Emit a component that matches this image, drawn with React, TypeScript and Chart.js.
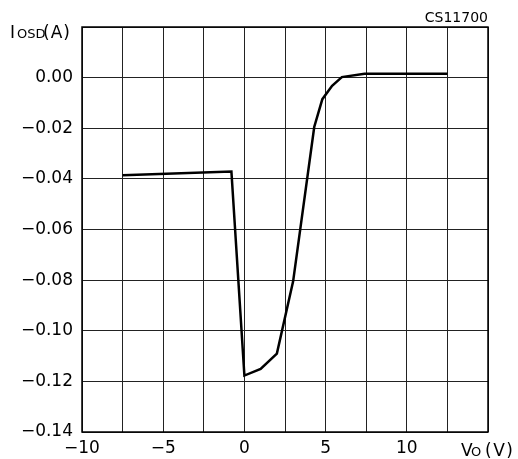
import React, { useEffect, useRef } from "react";
import { Chart, registerables } from "chart.js";

Chart.register(...registerables);

const voltage: number[] = [-7.5, -0.8, 0, 1, 2, 3, 4.3, 4.8, 5.4, 6, 7.4, 12.5];
const current: number[] = [-0.0386, -0.0371, -0.1177, -0.1151, -0.109, -0.0805, -0.0195, -0.0085, -0.0032, 0.0002, 0.0015, 0.0015];

const xMin = -10;
const xMax = 15;
const xStep = 2.5;
const yMin = -0.14;
const yMax = 0.02;
const yStep = 0.02;

const FONT = "DejaVu Sans";

const labelsPlugin = {
  id: "customLabels",
  beforeDatasetsDraw(chart: any) {
    const { ctx, chartArea } = chart;
    ctx.save();
    ctx.strokeStyle = "#000";
    ctx.lineWidth = 1.5;
    ctx.strokeRect(chartArea.left, chartArea.top, chartArea.right - chartArea.left, chartArea.bottom - chartArea.top);
    ctx.restore();
  },
  afterDraw(chart: any) {
    const { ctx } = chart;
    ctx.save();
    ctx.fillStyle = "#000";
    ctx.textBaseline = "alphabetic";
    ctx.textAlign = "left";
    // y-axis title
    ctx.font = `17px "${FONT}"`;
    ctx.fillText("I", 10, 38);
    ctx.font = `13px "${FONT}"`;
    ctx.fillText("OSD", 17, 38);
    ctx.font = `17px "${FONT}"`;
    (ctx as any).letterSpacing = "1px";
    ctx.fillText("(A)", 43, 38);
    // x-axis title
    (ctx as any).letterSpacing = "0px";
    ctx.fillText("V", 461, 456);
    ctx.font = `13px "${FONT}"`;
    ctx.fillText("O", 471, 456);
    ctx.font = `17px "${FONT}"`;
    (ctx as any).letterSpacing = "1.5px";
    ctx.fillText("(V)", 485, 456);
    // figure code
    (ctx as any).letterSpacing = "0px";
    ctx.font = `14px "${FONT}"`;
    ctx.textAlign = "right";
    ctx.fillText("CS11700", 488, 22);
    ctx.restore();
  },
};

export default function App() {
  const ref = useRef<HTMLCanvasElement | null>(null);

  useEffect(() => {
    if (!ref.current) return;
    const points = voltage.map((v, i) => ({ x: v, y: current[i] }));
    const chart = new Chart(ref.current, {
      type: "line",
      data: {
        datasets: [
          {
            data: points,
            borderColor: "#000",
            borderWidth: 2.5,
            pointRadius: 0,
            tension: 0,
            fill: false,
          },
        ],
      },
      options: {
        animation: false,
        responsive: false,
        devicePixelRatio: 1,
        layout: { padding: { top: 27, right: 30, left: 0, bottom: 0 } },
        plugins: {
          legend: { display: false },
          tooltip: { enabled: false },
        },
        scales: {
          x: {
            type: "linear",
            min: xMin,
            max: xMax,
            afterFit: (scale: any) => {
              scale.height = 27;
            },
            border: { display: false },
            grid: { color: "#222", lineWidth: 1, drawTicks: false },
            ticks: {
              stepSize: xStep,
              autoSkip: false,
              maxRotation: 0,
              padding: 6,
              color: "#000",
              font: { family: FONT, size: 17 },
              callback: (v: any) => {
                const n = Number(v);
                if (Math.abs(n - 15) < 1e-9) return "";
                if (Math.abs(n % 5) > 1e-9) return "";
                return (n < 0 ? "\u2212" : "") + Math.abs(n);
              },
            },
          },
          y: {
            min: yMin,
            max: yMax,
            afterFit: (scale: any) => {
              scale.width = 82;
            },
            border: { display: false },
            grid: { color: "#222", lineWidth: 1, drawTicks: false },
            ticks: {
              stepSize: yStep,
              autoSkip: false,
              padding: 9,
              color: "#000",
              font: { family: FONT, size: 17 },
              callback: (v: any) => {
                const n = Number(v);
                if (Math.abs(n - 0.02) < 1e-9) return "";
                if (Math.abs(n) < 1e-9) return "0.00";
                return (n < 0 ? "\u2212" : "") + Math.abs(n).toFixed(2);
              },
            },
          },
        },
      },
      plugins: [labelsPlugin],
    });
    return () => chart.destroy();
  }, []);

  return (
    <div style={{ position: "absolute", left: 0, top: 0, width: 518, height: 459, background: "#fff" }}>
      <canvas ref={ref} width={518} height={459} style={{ width: 518, height: 459, display: "block" }} />
    </div>
  );
}
